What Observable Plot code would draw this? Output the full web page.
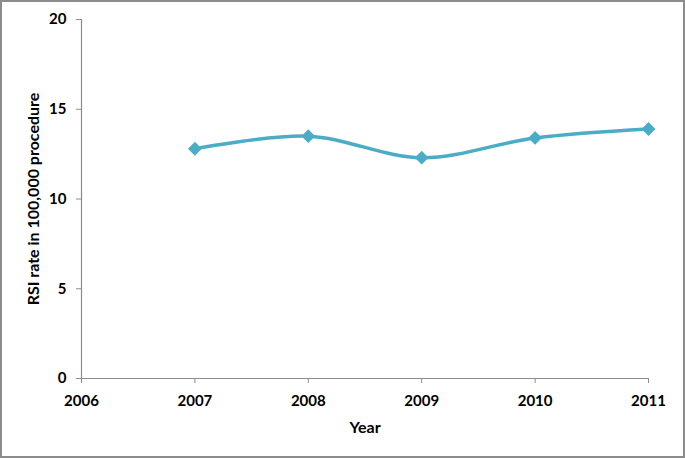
<!DOCTYPE html>
<html>
<head>
<meta charset="utf-8">
<script src="https://cdn.jsdelivr.net/npm/d3@7"></script>
<script src="https://cdn.jsdelivr.net/npm/@observablehq/plot@0.6"></script>
<style>
  html, body { margin: 0; padding: 0; background: #fff; }
  #wrap { position: relative; width: 685px; height: 458px; }
  #border { position: absolute; left: 0; top: 0; width: 685px; height: 458px; box-sizing: border-box; border: 2px solid #8c8c8c; pointer-events: none; }
  svg { display: block; }
</style>
</head>
<body>
<div id="wrap"><div id="border"></div></div>
<script>
const years = [2007, 2008, 2009, 2010, 2011];
const rates = [12.8, 13.5, 12.3, 13.4, 13.9];
const xTicks = [2006, 2007, 2008, 2009, 2010, 2011];
const yTicks = [0, 5, 10, 15, 20];

const data = years.map((y, i) => ({year: y, rate: rates[i]}));
const color = "#4BACC6";
const axisColor = "#8c8c8c";

// square diamond (equal width and height)
const squareDiamond = {
  draw(context, size) {
    const h = Math.sqrt(size / 2);
    context.moveTo(0, -h);
    context.lineTo(h, 0);
    context.lineTo(0, h);
    context.lineTo(-h, 0);
    context.closePath();
  }
};

const chart = Plot.plot({
  width: 685,
  height: 458,
  marginLeft: 81,
  marginRight: 37,
  marginTop: 19,
  marginBottom: 80,
  style: {fontFamily: "Lato, 'Open Sans', sans-serif", fontSize: "15px", fontWeight: "bold", color: "#000", background: "transparent"},
  x: {domain: [2006, 2011]},
  y: {domain: [0, 20]},
  marks: [
    Plot.ruleX([2006], {stroke: axisColor, strokeWidth: 1.2}),
    Plot.ruleY([0], {stroke: axisColor, strokeWidth: 1.2}),
    Plot.axisX({ticks: xTicks, tickFormat: "d", tickSize: 5, tickPadding: 12, stroke: axisColor, fill: "#000", fontSize: 15, label: null}),
    Plot.axisY({ticks: yTicks, tickSize: 5, tickPadding: 10, stroke: axisColor, fill: "#000", fontSize: 15, label: null}),
    Plot.text(["Year"], {frameAnchor: "bottom", dy: 54, fontSize: 16, fontWeight: "bold", fill: "#000"}),
    Plot.text(["RSI rate in 100,000 procedure"], {frameAnchor: "left", dx: -48, rotate: -90, textAnchor: "middle", fontSize: 16, fontWeight: "bold", fill: "#000"}),
    Plot.line(data, {x: "year", y: "rate", curve: "catmull-rom", stroke: color, strokeWidth: 3.5}),
    Plot.dot(data, {x: "year", y: "rate", symbol: squareDiamond, r: 5.5, fill: color, stroke: "none"})
  ]
});
document.getElementById("wrap").prepend(chart);
</script>
</body>
</html>
